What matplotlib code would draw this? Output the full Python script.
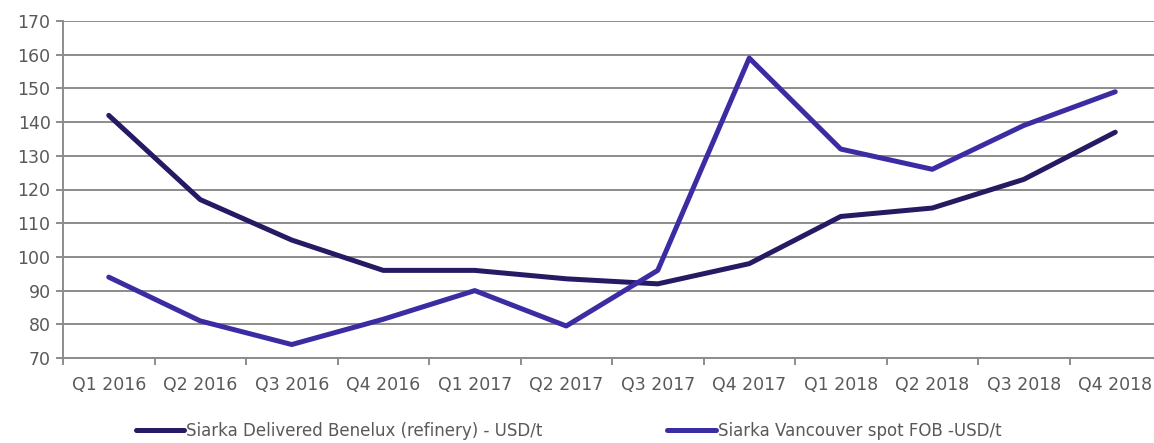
import matplotlib
matplotlib.use("Agg")
import matplotlib.pyplot as plt
from matplotlib.ticker import FixedLocator
import numpy as np

quarters = ["Q1 2016", "Q2 2016", "Q3 2016", "Q4 2016",
            "Q1 2017", "Q2 2017", "Q3 2017", "Q4 2017",
            "Q1 2018", "Q2 2018", "Q3 2018", "Q4 2018"]
benelux = [142, 117, 105, 96, 96, 93.5, 92, 98, 112, 114.5, 123, 137]
vancouver = [94, 81, 74, 81.5, 90, 79.5, 96, 159, 132, 126, 139, 149]

label_benelux = "Siarka Delivered Benelux (refinery) - USD/t"
label_vancouver = "Siarka Vancouver spot FOB -USD/t"

grey = "#8c8c8c"
text_grey = "#595959"

plt.rcParams['font.family'] = ['DejaVu Sans']

fig = plt.figure(figsize=(11.54, 4.43), dpi=100)
ax = fig.add_axes([63 / 1154, 1 - 358 / 443, 12 * 91.5 / 1154, (358 - 21) / 443])

x = np.arange(len(quarters))
ax.plot(x, benelux, color="#251a63", lw=3.6, label=label_benelux,
        solid_capstyle="round", solid_joinstyle="round")
ax.plot(x, vancouver, color="#3b2ca3", lw=3.6, label=label_vancouver,
        solid_capstyle="round", solid_joinstyle="round")

ax.set_xlim(-0.5, len(quarters) - 0.5)
ax.set_ylim(70, 170)
ax.set_yticks(np.arange(70, 171, 10))
ax.yaxis.grid(True, color=grey, lw=1.4)
ax.set_axisbelow(True)

ax.set_xticks(x)
ax.set_xticklabels(quarters)
ax.xaxis.set_minor_locator(FixedLocator(np.arange(-0.5, len(quarters), 1.0)))
ax.tick_params(axis="x", which="major", length=0, pad=13, labelsize=12.5, colors=text_grey)
ax.tick_params(axis="x", which="minor", length=5, width=1.4, color=grey)
ax.tick_params(axis="y", length=5, width=1.4, color=grey, pad=4, labelsize=12.5, labelcolor=text_grey)

for s in ["top", "right"]:
    ax.spines[s].set_visible(False)
for s in ["left", "bottom"]:
    ax.spines[s].set_color(grey)
    ax.spines[s].set_linewidth(1.4)

leg = fig.legend(loc="center", bbox_to_anchor=(0.4925, 0.027), ncol=2, frameon=False,
                 handlelength=2.9, handletextpad=0.12, columnspacing=7.5,
                 fontsize=12, borderpad=0.2)
for t in leg.get_texts():
    t.set_color(text_grey)

fig.savefig("out.png", dpi=100)
